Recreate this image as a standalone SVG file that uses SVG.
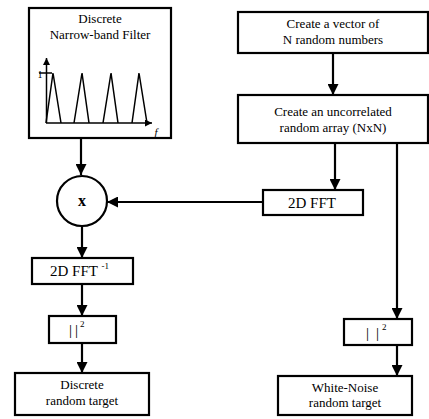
<svg xmlns="http://www.w3.org/2000/svg" width="429" height="419" viewBox="0 0 429 419">
<defs>
<style>
.box{fill:#fff;stroke:#000;stroke-width:2.2}
.t{font-family:"Liberation Serif","Times New Roman",serif;font-size:13px;fill:#000;text-anchor:middle}
.tl{font-family:"Liberation Serif","Times New Roman",serif;font-size:15px;fill:#000}
.c{fill:none;stroke:#000;stroke-width:2.2}
.g{fill:none;stroke:#000;stroke-width:1.5}
</style>
<marker id="ah" viewBox="0 0 10 10" refX="10" refY="5" markerWidth="11" markerHeight="11" markerUnits="userSpaceOnUse" orient="auto">
<path d="M0,0 L10,5 L0,10 Z" fill="#000"/>
</marker>
<marker id="sa" viewBox="0 0 10 10" refX="10" refY="5" markerWidth="7" markerHeight="7" markerUnits="userSpaceOnUse" orient="auto">
<path d="M0,0 L10,5 L0,10 Z" fill="#000"/>
</marker>
</defs>
<rect width="429" height="419" fill="#fff"/>
<g id="filter">
<rect class="box" x="29" y="8" width="142" height="130"/>
<text class="t" x="100" y="23">Discrete</text>
<text class="t" x="100" y="39">Narrow-band Filter</text>
<line class="g" x1="46.5" y1="123" x2="46.5" y2="58" marker-end="url(#sa)"/>
<line class="g" x1="46" y1="123" x2="152" y2="123" marker-end="url(#sa)"/>
<line class="g" x1="39" y1="73" x2="52" y2="73"/>
<text class="t" x="40" y="78" style="font-size:10px">1</text>
<text class="t" x="156" y="136" style="font-size:11px;font-style:italic">f</text>
<polyline class="g" points="46,123 53,73 61,123"/>
<polyline class="g" points="74,123 82,73 89,123"/>
<polyline class="g" points="103,123 111,73 118,123"/>
<polyline class="g" points="132,123 139,73 147,123"/>
</g>
<g id="vector">
<rect class="box" x="238" y="12" width="190" height="41"/>
<text class="t" x="333" y="28">Create a vector of</text>
<text class="t" x="333" y="44">N random numbers</text>
</g>
<g id="array">
<rect class="box" x="238" y="95" width="190" height="48"/>
<text class="t" x="333" y="116">Create an uncorrelated</text>
<text class="t" x="333" y="132">random array (NxN)</text>
</g>
<g id="fft">
<rect class="box" x="263" y="190" width="100" height="25"/>
<text class="tl" x="312" y="208" text-anchor="middle">2D FFT</text>
</g>
<g id="mult">
<circle cx="82" cy="201" r="25" class="box"/>
<text class="t" x="82" y="206" style="font-size:16px;font-weight:bold">x</text>
</g>
<g id="ifft">
<rect class="box" x="32" y="258" width="101" height="26"/>
<text class="tl" x="50" y="276">2D FFT <tspan font-size="9" dy="-7">-1</tspan></text>
</g>
<g id="abs1">
<rect class="box" x="49" y="316" width="67" height="27"/>
<text class="tl" x="69" y="335">|<tspan dx="3">|</tspan><tspan font-size="9" dx="2" dy="-8">2</tspan></text>
</g>
<g id="target1">
<rect class="box" x="15" y="373" width="134" height="42"/>
<text class="t" x="82" y="389">Discrete</text>
<text class="t" x="82" y="405">random target</text>
</g>
<g id="abs2">
<rect class="box" x="344" y="319" width="68" height="26"/>
<text class="tl" x="366" y="338">|<tspan dx="7">|</tspan><tspan font-size="9" dx="3" dy="-8">2</tspan></text>
</g>
<g id="target2">
<rect class="box" x="278" y="376" width="134" height="39"/>
<text class="t" x="345" y="392">White-Noise</text>
<text class="t" x="345" y="407">random target</text>
</g>
<g id="connectors">
<line class="c" x1="81" y1="138" x2="81" y2="175" marker-end="url(#ah)"/>
<line class="c" x1="333" y1="53" x2="333" y2="95" marker-end="url(#ah)"/>
<line class="c" x1="335" y1="143" x2="335" y2="190" marker-end="url(#ah)"/>
<line class="c" x1="397" y1="143" x2="397" y2="319" marker-end="url(#ah)"/>
<line class="c" x1="263" y1="202" x2="107" y2="202" marker-end="url(#ah)"/>
<line class="c" x1="82" y1="226" x2="82" y2="258" marker-end="url(#ah)"/>
<line class="c" x1="82" y1="284" x2="82" y2="316" marker-end="url(#ah)"/>
<line class="c" x1="82" y1="343" x2="82" y2="373" marker-end="url(#ah)"/>
<line class="c" x1="397" y1="345" x2="397" y2="376" marker-end="url(#ah)"/>
</g>
</svg>
